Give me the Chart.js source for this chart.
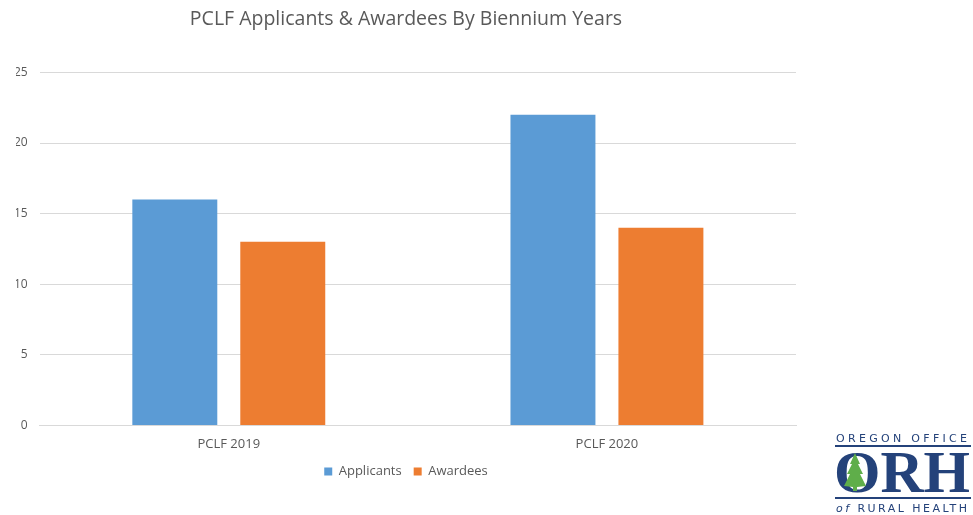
<!DOCTYPE html>
<html>
<head>
<meta charset="utf-8">
<script src="https://cdn.jsdelivr.net/npm/chart.js@4"></script>
<style>
  html, body { margin: 0; padding: 0; background: #fff; }
  #wrap { position: relative; width: 973px; height: 515px; }
  #logo { position: absolute; left: 830px; top: 428px; }
</style>
</head>
<body>
<div id="wrap">
  <canvas id="chart" width="973" height="515"></canvas>
  <svg id="logo" width="143" height="87" viewBox="0 0 143 87">
    <text x="6" y="14" font-family="DejaVu Sans, sans-serif" font-size="11" fill="#24427a" textLength="131" lengthAdjust="spacing">OREGON OFFICE</text>
    <line x1="5" y1="18" x2="141" y2="18" stroke="#24427a" stroke-width="2"/>
    <text x="4" y="64" font-family="Liberation Serif, serif" font-weight="bold" font-size="60" fill="#24427a" textLength="136" lengthAdjust="spacingAndGlyphs">ORH</text>
    <polygon points="25,25 30,36 28,36 33,46 30,46 36,58 27,59 27,63 23,63 23,59 14,58 20,46 17,46 22,36 20,36" fill="#5fae4a"/>
    <line x1="5" y1="70" x2="141" y2="70" stroke="#24427a" stroke-width="2"/>
    <text x="6" y="84" font-family="DejaVu Sans, sans-serif" font-size="11" fill="#24427a" textLength="131" lengthAdjust="spacing"><tspan font-style="italic">of</tspan> RURAL HEALTH</text>
  </svg>
</div>
<script>
const categories = ['PCLF 2019', 'PCLF 2020'];
const applicants = [16, 22];
const awardees = [13, 14];

const textColor = '#595959';
const fontFamily = '"Open Sans", "Noto Sans", sans-serif';

new Chart(document.getElementById('chart'), {
  type: 'bar',
  data: {
    labels: categories,
    datasets: [
      {
        label: 'Applicants',
        data: applicants,
        backgroundColor: '#5b9bd5',
        categoryPercentage: 0.571,
        barPercentage: 0.787,
      },
      {
        label: 'Awardees',
        data: awardees,
        backgroundColor: '#ed7d31',
        categoryPercentage: 0.571,
        barPercentage: 0.787,
      },
    ],
  },
  options: {
    responsive: false,
    animation: false,
    layout: { padding: { top: 8, right: 177, bottom: 27, left: 16 } },
    plugins: {
      title: {
        display: true,
        text: 'PCLF Applicants & Awardees By Biennium Years',
        color: textColor,
        font: { family: fontFamily, size: 19.5, weight: 'normal' },
        padding: { top: 0, bottom: 41 },
      },
      legend: {
        position: 'bottom',
        labels: {
          color: textColor,
          font: { family: fontFamily, size: 13 },
          boxWidth: 8,
          boxHeight: 8,
          padding: 12,
        },
      },
      tooltip: { enabled: false },
    },
    scales: {
      x: {
        grid: { display: false },
        border: { color: '#d9d9d9' },
        ticks: { color: textColor, padding: 3, font: { family: fontFamily, size: 13 } },
        // tighten the gap between the tick labels and the legend
        afterFit(scale) {
          scale.height -= 2;
        },
      },
      y: {
        min: 0,
        max: 25,
        ticks: {
          stepSize: 5,
          color: textColor,
          padding: 12,
          font: { family: fontFamily, size: 12 },
        },
        grid: { color: '#d9d9d9', drawTicks: false },
        border: { display: false },
        // pull the axis back into the left padding so title and legend centre a bit further right
        afterFit(scale) {
          scale.width -= 14;
        },
      },
    },
  },
});
</script>
</body>
</html>
